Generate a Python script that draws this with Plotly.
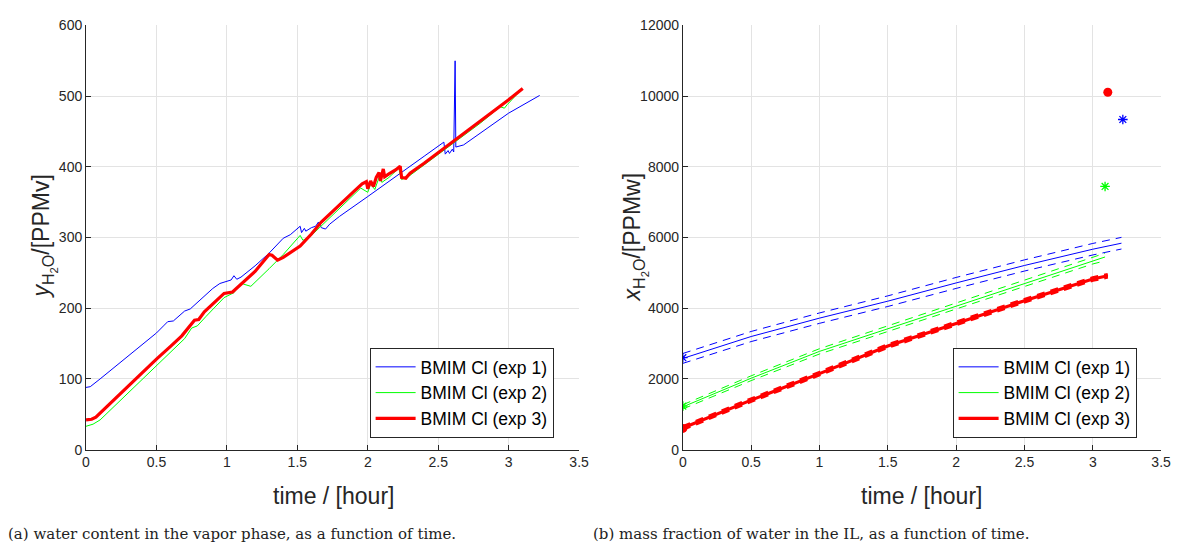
import plotly.graph_objects as go

# ---------------- Left panel: vapor-phase water content ----------------
t_exp1 = [0, 0.03, 0.1, 0.2, 0.3, 0.4, 0.5, 0.55, 0.58, 0.62, 0.7, 0.74, 0.8, 0.9, 0.95, 1.0, 1.03, 1.05,
          1.07, 1.1, 1.2, 1.3, 1.4, 1.45, 1.5, 1.52, 1.53, 1.55, 1.56, 1.6, 1.63, 1.65, 1.67, 1.7, 1.73,
          1.8, 2.0, 2.2, 2.4, 2.54, 2.55, 2.57, 2.58, 2.6, 2.61, 2.62, 2.625, 2.68, 3.0, 3.22]
y_exp1 = [88, 89, 100, 116, 133, 149, 165, 175, 181, 182, 196, 199, 210, 228, 235, 238, 240, 246,
          241, 244, 260, 278, 299, 304, 312, 316, 307, 313, 309, 314, 316, 322, 314, 312, 319,
          330, 358, 387, 415, 435, 418, 423, 419, 425, 421, 550, 428, 431, 476, 501]

t_exp2 = [0, 0.05, 0.1, 0.3, 0.5, 0.7, 0.75, 0.79, 0.85, 0.98, 1.05, 1.10, 1.12, 1.17, 1.3, 1.4, 1.52,
          1.54, 1.6, 1.7, 1.8, 1.95, 2.0, 2.02, 2.05, 2.08, 2.1, 2.15, 2.22, 2.24, 2.3, 2.5, 2.8, 2.94,
          2.97, 2.99, 3.07]
y_exp2 = [33, 36, 42, 80, 118, 157, 172, 175, 188, 215, 222, 236, 234, 231, 256, 276, 303,
          296, 303, 322, 342, 370, 364, 376, 368, 385, 378, 385, 398, 382, 388, 418, 462, 485,
          483, 488, 505]

t_exp3 = [0, 0.04, 0.07, 0.2, 0.3, 0.4, 0.5, 0.6, 0.68, 0.77, 0.8, 0.84, 0.9, 0.98, 1.04, 1.12, 1.2,
          1.3, 1.32, 1.36, 1.4, 1.52, 1.6, 1.67, 1.8, 1.9, 1.96, 1.99, 2.0, 2.02, 2.04, 2.06, 2.08,
          2.09, 2.11, 2.12, 2.15, 2.2, 2.23, 2.24, 2.27, 2.3, 2.4, 2.5, 2.62, 2.8, 3.0, 3.1]
y_exp3 = [42, 43, 46, 71, 90, 109, 128, 146, 161, 183, 184, 195, 206, 221, 223, 238, 252,
          276, 275, 268, 272, 288, 305, 322, 347, 365, 376, 379, 369, 380, 372, 385, 392,
          380, 397, 386, 390, 396, 401, 385, 384, 391, 405, 420, 437, 465, 495, 511]

# ---------------- Right panel: water mass fraction in the IL ----------------
tx_exp1 = [0, 0.5, 1.0, 1.5, 2.0, 2.5, 3.0, 3.21]
x_exp1 = [2580, 3200, 3720, 4200, 4716, 5210, 5670, 5840]
band_exp1 = [140, 143, 147, 150, 155, 158, 163, 165]

tx_exp2 = [0, 0.5, 1.0, 1.5, 2.0, 2.5, 3.0, 3.09]
x_exp2 = [1210, 2020, 2780, 3420, 4070, 4716, 5357, 5450]
band_exp2 = [60, 68, 75, 82, 90, 97, 105, 108]

tx_exp3 = [0, 0.5, 1.0, 1.5, 2.0, 2.5, 3.0, 3.11]
x_exp3 = [613, 1400, 2150, 2930, 3571, 4212, 4826, 4918]
band_exp3 = [35, 35, 35, 35, 35, 35, 35, 35]

# measured points (start / end)
pt_exp1_t = [0, 3.22]
pt_exp1_x = [2600, 9340]
pt_exp2_t = [0, 3.09]
pt_exp2_x = [1230, 7445]
pt_exp3_t = [0, 3.11]
pt_exp3_x = [600, 10110]

labels = ["BMIM Cl (exp 1)", "BMIM Cl (exp 2)", "BMIM Cl (exp 3)"]
BLUE = "#0000ff"
GREEN = "#00ff00"
RED = "#ff0000"

fig = go.Figure()

# left
fig.add_trace(go.Scatter(x=t_exp1, y=y_exp1, mode="lines", line=dict(color=BLUE, width=1),
                         name=labels[0], xaxis="x", yaxis="y", legend="legend"))
fig.add_trace(go.Scatter(x=t_exp2, y=y_exp2, mode="lines", line=dict(color=GREEN, width=1),
                         name=labels[1], xaxis="x", yaxis="y", legend="legend"))
fig.add_trace(go.Scatter(x=t_exp3, y=y_exp3, mode="lines", line=dict(color=RED, width=3.2),
                         name=labels[2], xaxis="x", yaxis="y", legend="legend"))

# right
def add_band(tt, xx, bb, color, width, name):
    up = [a + b for a, b in zip(xx, bb)]
    lo = [a - b for a, b in zip(xx, bb)]
    fig.add_trace(go.Scatter(x=tt, y=up, mode="lines", line=dict(color=color, width=width, dash="8px,6px"),
                             showlegend=False, xaxis="x2", yaxis="y2", hoverinfo="skip"))
    fig.add_trace(go.Scatter(x=tt, y=lo, mode="lines", line=dict(color=color, width=width, dash="8px,6px"),
                             showlegend=False, xaxis="x2", yaxis="y2", hoverinfo="skip"))
    fig.add_trace(go.Scatter(x=tt, y=xx, mode="lines", line=dict(color=color, width=width),
                             name=name, xaxis="x2", yaxis="y2", legend="legend2"))

add_band(tx_exp1, x_exp1, band_exp1, BLUE, 1, labels[0])
add_band(tx_exp2, x_exp2, band_exp2, GREEN, 1, labels[1])
add_band(tx_exp3, x_exp3, band_exp3, RED, 3.2, labels[2])

fig.add_trace(go.Scatter(x=pt_exp1_t, y=pt_exp1_x, mode="markers",
                         marker=dict(symbol="asterisk-open", size=8, color=BLUE, line=dict(color=BLUE, width=1.3)),
                         showlegend=False, xaxis="x2", yaxis="y2"))
fig.add_trace(go.Scatter(x=pt_exp2_t, y=pt_exp2_x, mode="markers",
                         marker=dict(symbol="asterisk-open", size=8, color=GREEN, line=dict(color=GREEN, width=1.3)),
                         showlegend=False, xaxis="x2", yaxis="y2"))
fig.add_trace(go.Scatter(x=pt_exp3_t, y=pt_exp3_x, mode="markers",
                         marker=dict(symbol="circle", size=9, color=RED),
                         showlegend=False, xaxis="x2", yaxis="y2"))

W, H = 1179, 544
TOP = 1 - 18 / H
BOT = 1 - 455 / H
AX = dict(showline=True, linecolor="#262626", linewidth=1, ticks="inside", ticklen=5,
          tickcolor="#262626", showgrid=True, gridcolor="#e3e3e3", gridwidth=1, zeroline=False,
          tickfont=dict(family="Liberation Sans, Arial", size=14, color="#262626"), mirror=False,
          tickformat="d")

LF = dict(family="Liberation Sans, Arial", size=17.5, color="black")
fig.update_layout(
    width=W, height=H, margin=dict(l=0, r=0, t=0, b=0),
    paper_bgcolor="white", plot_bgcolor="white",
    xaxis=dict(domain=[83 / W, 582 / W], range=[0, 3.5], dtick=0.5, anchor="y", **{**AX, "tickformat": ""}),
    yaxis=dict(domain=[BOT, TOP], range=[0, 600], dtick=100, anchor="x", **AX),
    xaxis2=dict(domain=[687 / W, 1171 / W], range=[0, 3.5], dtick=0.5, anchor="y2", **{**AX, "tickformat": ""}),
    yaxis2=dict(domain=[BOT, TOP], range=[0, 12000], dtick=2000, anchor="x2", **AX),
    legend=dict(x=370 / W, y=1 - 443 / H, xanchor="left", yanchor="bottom",
                bgcolor="white", bordercolor="#262626", borderwidth=1, itemwidth=40, font=LF),
    legend2=dict(x=960 / W, y=1 - 443 / H, xanchor="left", yanchor="bottom",
                 bgcolor="white", bordercolor="#262626", borderwidth=1, itemwidth=40, font=LF),
    showlegend=True,
)

TF = dict(family="Liberation Sans, Arial", size=23, color="#262626")
CF = dict(family="DejaVu Serif, serif", size=15, color="#222222")
ann = [
    dict(text="time / [hour]", x=333 / W, y=1 - 503 / H, xref="paper", yref="paper",
         showarrow=False, font=TF, xanchor="center", yanchor="middle"),
    dict(text="time / [hour]", x=929 / W, y=1 - 503 / H, xref="paper", yref="paper",
         showarrow=False, font=TF, xanchor="center", yanchor="middle"),
    dict(text="<i>y</i><sub>H<sub>2</sub>O</sub>/[PPMv]", x=40 / W, y=1 - 236 / H, xref="paper", yref="paper",
         showarrow=False, font=TF, textangle=-90, xanchor="center", yanchor="middle"),
    dict(text="<i>x</i><sub>H<sub>2</sub>O</sub>/[PPMw]", x=638 / W, y=1 - 236 / H, xref="paper", yref="paper",
         showarrow=False, font=TF, textangle=-90, xanchor="center", yanchor="middle"),
    dict(text="(a) water content in the vapor phase, as a function of time.", x=2 / W, y=0, yshift=-9,
         xref="paper", yref="paper", showarrow=False, xanchor="left", yanchor="bottom", font=CF),
    dict(text="(b) mass fraction of water in the IL, as a function of time.", x=594 / W, y=0, yshift=-9,
         xref="paper", yref="paper", showarrow=False, xanchor="left", yanchor="bottom", font=CF),
]
fig.update_layout(annotations=ann)

fig.write_html("out.html")
